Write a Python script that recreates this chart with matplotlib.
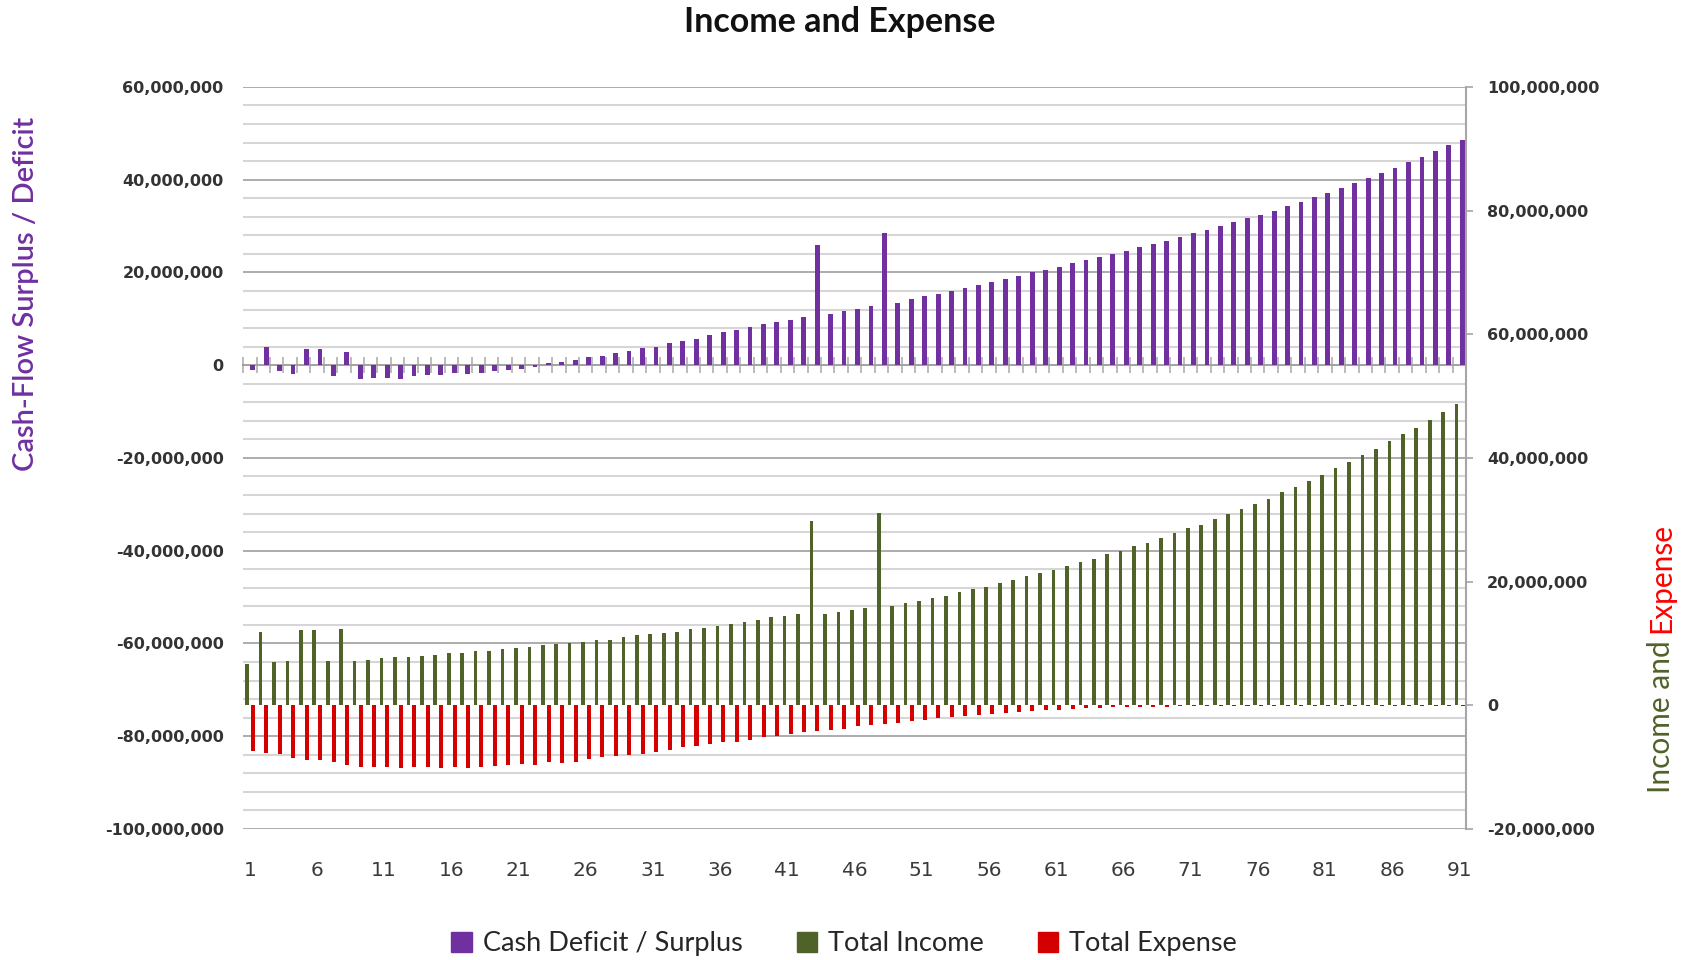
import matplotlib
matplotlib.use('Agg')
import matplotlib.pyplot as plt
from matplotlib.patches import Patch
from matplotlib.ticker import FuncFormatter, MultipleLocator
import numpy as np

# values in millions, period 1..91
periods = list(range(1, 92))

cashFlow = [-1.0, 4.0, -1.3, -1.9, 3.4, 3.4, -2.4, 2.9, -3.0, -2.7,
            -2.7, -3.0, -2.4, -2.2, -2.1, -1.6, -1.9, -1.6, -1.3, -1.1,
            -0.8, -0.4, 0.4, 0.6, 1.2, 1.7, 2.0, 2.6, 3.1, 3.7,
            4.0, 4.8, 5.2, 5.7, 6.6, 7.1, 7.6, 8.2, 8.9, 9.4,
            9.8, 10.3, 26.0, 11.0, 11.6, 12.1, 12.7, 28.4, 13.4, 14.2,
            14.9, 15.4, 16.0, 16.7, 17.2, 17.9, 18.6, 19.3, 20.0, 20.6,
            21.2, 22.0, 22.6, 23.3, 24.0, 24.6, 25.5, 26.1, 26.8, 27.6,
            28.5, 29.1, 30.1, 30.8, 31.7, 32.4, 33.3, 34.4, 35.2, 36.2,
            37.2, 38.2, 39.3, 40.3, 41.4, 42.6, 43.7, 44.8, 46.1, 47.4,
            48.6]

totalIncome = [6.7, 11.9, 7.0, 7.2, 12.2, 12.2, 7.2, 12.3, 7.2, 7.4,
               7.6, 7.8, 7.8, 8.0, 8.2, 8.4, 8.4, 8.7, 8.8, 9.1,
               9.2, 9.4, 9.7, 9.9, 10.1, 10.3, 10.5, 10.6, 11.1, 11.3,
               11.5, 11.7, 11.9, 12.3, 12.5, 12.9, 13.2, 13.4, 13.8, 14.2,
               14.4, 14.7, 29.8, 14.8, 15.1, 15.4, 15.8, 31.1, 16.0, 16.5,
               16.9, 17.3, 17.7, 18.3, 18.8, 19.1, 19.8, 20.2, 20.9, 21.4,
               21.8, 22.5, 23.1, 23.7, 24.4, 24.9, 25.8, 26.3, 27.0, 27.8,
               28.7, 29.2, 30.2, 30.9, 31.8, 32.5, 33.4, 34.5, 35.3, 36.3,
               37.3, 38.3, 39.4, 40.4, 41.5, 42.7, 43.8, 44.9, 46.2, 47.5,
               48.7]

totalExpense = [-7.4, -7.7, -7.9, -8.6, -8.9, -8.9, -9.2, -9.6, -9.9, -9.9,
                -9.9, -10.2, -9.9, -9.9, -10.1, -9.9, -10.2, -9.9, -9.8, -9.6,
                -9.5, -9.6, -9.2, -9.4, -9.1, -8.7, -8.4, -8.2, -8.0, -7.8,
                -7.5, -7.3, -6.7, -6.6, -6.3, -6.0, -5.9, -5.6, -5.1, -4.9,
                -4.7, -4.4, -4.1, -4.0, -3.8, -3.4, -3.2, -3.0, -2.8, -2.5,
                -2.3, -2.1, -1.9, -1.7, -1.6, -1.45, -1.3, -1.1, -1.0, -0.8,
                -0.7, -0.55, -0.5, -0.4, -0.35, -0.3, -0.25, -0.2, -0.2, -0.15,
                -0.12, -0.12, -0.12, -0.12, -0.12, -0.12, -0.12, -0.12, -0.12, -0.12,
                -0.1, -0.1, -0.1, -0.1, -0.1, -0.1, -0.1, -0.1, -0.1, -0.1,
                -0.1]

leftRange = (-100e6, 60e6)
rightRange = (-20e6, 100e6)

purple = '#7030a0'
green = '#4f6228'
red = '#d40000'
textFont = ['Lato', 'DejaVu Sans']
numFont = ['DejaVu Sans']

plt.rcParams['font.family'] = textFont

fig = plt.figure(figsize=(16.88, 9.6), dpi=100)
ax = fig.add_axes([0.144, 0.1365, 0.7245, 0.773])
ax2 = ax.twinx()

x = np.arange(len(periods))
ax.bar(x + 0.22, np.array(cashFlow) * 1e6, width=0.36, color=purple, zorder=3)
ax2.bar(x - 0.2, np.array(totalIncome) * 1e6, width=0.27, color=green)
ax2.bar(x + 0.24, np.array(totalExpense) * 1e6, width=0.3, color=red)

ax.set_xlim(-0.5, len(periods) - 0.5)
ax.set_ylim(*leftRange)
ax2.set_ylim(*rightRange)

# gridlines from the left axis
ax.yaxis.set_major_locator(MultipleLocator(20e6))
ax.yaxis.set_minor_locator(MultipleLocator(4e6))
ax.grid(which='minor', axis='y', color='#d6d6d6', lw=1.5)
ax.grid(which='major', axis='y', color='#a6a6a6', lw=1.3)
ax.set_axisbelow(True)

commas = FuncFormatter(lambda v, p: f'{v:,.0f}')
ax.yaxis.set_major_formatter(commas)
ax.tick_params(axis='y', which='both', length=0, pad=14, labelsize=11.5, labelcolor='#333333')

ax2.yaxis.set_major_locator(MultipleLocator(20e6))
ax2.yaxis.set_major_formatter(commas)
ax2.tick_params(axis='y', length=5, width=1.2, color='#a6a6a6', pad=10, labelsize=11.5, labelcolor='#333333')

for a in (ax, ax2):
    for s in ('top', 'left', 'bottom'):
        a.spines[s].set_visible(False)
ax.spines['right'].set_visible(False)
ax2.spines['right'].set_color('#a6a6a6')
ax2.spines['right'].set_linewidth(1.5)

# category labels at the bottom
ax.set_xticks(x[::5])
ax.set_xticklabels([str(p) for p in periods[::5]])
ax.tick_params(axis='x', length=0, pad=23, labelsize=14.5, labelcolor='#3a3a3a')

# category axis crossing at zero on the left scale
zeroPos = (0 - leftRange[0]) / (leftRange[1] - leftRange[0])
catAxis = ax.secondary_xaxis(zeroPos)
catAxis.set_xticks(np.arange(-0.5, len(periods), 1))
catAxis.tick_params(axis='x', direction='inout', length=11, width=1.2, color='#b0b0b0',
                    labeltop=False, labelbottom=False)
catAxis.spines['top'].set_color('#8c8c8c')
catAxis.spines['top'].set_linewidth(1.3)
catAxis.spines['bottom'].set_visible(False)

for lbl in ax.get_yticklabels() + ax2.get_yticklabels():
    lbl.set_fontweight('bold')
    lbl.set_family(numFont)
for lbl in ax.get_xticklabels():
    lbl.set_family(numFont)

fig.text(0.4976, 0.9776, 'Income and Expense', ha='center', va='center',
         fontsize=24.5, fontweight='bold', color='#111111')

fig.text(0.0154, 0.694, 'Cash-Flow Surplus / Deficit', rotation=90, ha='center', va='center',
         fontsize=21, fontweight='semibold', color=purple)

splitY = 0.341
fig.text(0.984, splitY, 'Income and ', rotation=90, ha='center', va='top',
         fontsize=21.5, color=green)
fig.text(0.984, splitY, 'Expense', rotation=90, ha='center', va='bottom',
         fontsize=21.5, color='#ff0000')

handles = [Patch(color=purple), Patch(color=green), Patch(color=red)]
labels = ['Cash Deficit / Surplus', 'Total Income', 'Total Expense']
fig.legend(handles, labels, loc='center', bbox_to_anchor=(0.5, 0.0167), ncol=3,
           frameon=False, fontsize=19.5, handlelength=0.75, handleheight=0.75,
           handletextpad=0.4, columnspacing=2.0, labelcolor='#262626')

fig.savefig('out.png', dpi=100)
